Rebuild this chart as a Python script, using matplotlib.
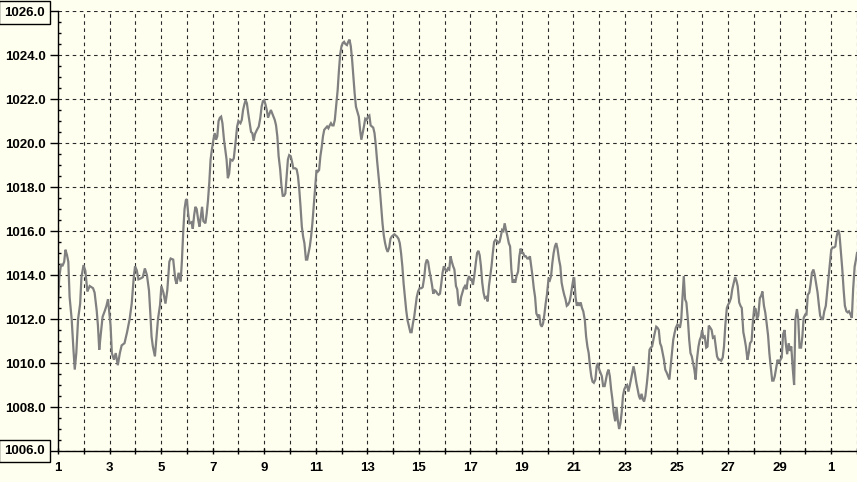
import matplotlib
matplotlib.use("Agg")
import matplotlib.pyplot as plt
from matplotlib.ticker import FixedLocator, MultipleLocator

# ---- data: time offset in days from day 1 00:00, pressure in hPa ----
day_offset = [
    0.00, 0.05, 0.12, 0.17, 0.24, 0.29, 0.35, 0.40, 0.45, 0.53, 0.60, 0.65, 0.71, 0.78, 0.86, 0.91, 0.99,
    1.06, 1.14, 1.23, 1.36, 1.42, 1.50, 1.55, 1.60, 1.65, 1.73, 1.81, 1.88, 1.94, 1.99,
    2.04, 2.09, 2.17, 2.24, 2.32, 2.40, 2.47, 2.58, 2.68, 2.78, 2.86, 2.94, 2.99,
    3.06, 3.12, 3.22, 3.29, 3.37, 3.45, 3.53, 3.58, 3.63, 3.68, 3.76, 3.81, 3.88, 3.96,
    4.01, 4.09, 4.17, 4.24, 4.32, 4.37, 4.47, 4.55, 4.60, 4.68, 4.76, 4.81, 4.86, 4.91, 4.96,
    5.00, 5.05, 5.10, 5.18, 5.23, 5.28, 5.33, 5.38, 5.44, 5.49, 5.54, 5.59, 5.64, 5.72, 5.77, 5.82, 5.87, 5.92, 5.97,
    6.03, 6.08, 6.13, 6.18, 6.23, 6.28, 6.33, 6.38, 6.44, 6.49, 6.54, 6.59, 6.64, 6.69, 6.77, 6.82, 6.90, 6.95,
    7.00, 7.08, 7.13, 7.18, 7.23, 7.28, 7.33, 7.38, 7.44, 7.49, 7.54, 7.59, 7.64, 7.72, 7.79, 7.85, 7.90, 7.95,
    8.00, 8.05, 8.10, 8.15, 8.21, 8.26, 8.31, 8.36, 8.41, 8.46, 8.51, 8.56, 8.62, 8.67, 8.72, 8.77, 8.82, 8.87, 8.92, 8.97,
    9.03, 9.08, 9.13, 9.21, 9.26, 9.31, 9.36, 9.41, 9.46, 9.51, 9.56, 9.62, 9.67, 9.72, 9.77, 9.82, 9.87, 9.92, 9.97,
    10.03, 10.08, 10.13, 10.18, 10.23, 10.28, 10.33, 10.38, 10.44, 10.49, 10.54, 10.59, 10.64, 10.69, 10.74, 10.79, 10.85, 10.90, 10.95,
    11.00, 11.05, 11.10, 11.15, 11.21, 11.26, 11.31, 11.36, 11.41, 11.46, 11.51, 11.56, 11.62, 11.67, 11.72, 11.77, 11.82, 11.87, 11.92, 11.97,
    12.03, 12.08, 12.13, 12.18, 12.23, 12.28, 12.33, 12.38, 12.44, 12.49, 12.54, 12.59, 12.64, 12.69, 12.74, 12.79, 12.85, 12.90, 12.95,
    13.00, 13.05, 13.10, 13.15, 13.21, 13.26, 13.31, 13.36, 13.41, 13.46, 13.51, 13.56, 13.62, 13.67, 13.72, 13.77, 13.82, 13.87, 13.92, 13.97,
    14.03, 14.10, 14.15, 14.21, 14.26, 14.31, 14.36, 14.41, 14.46, 14.51, 14.56, 14.62, 14.67, 14.72, 14.77, 14.82, 14.87, 14.92, 14.97,
    15.03, 15.08, 15.13, 15.18, 15.23, 15.28, 15.33, 15.38, 15.44, 15.49, 15.54, 15.59, 15.64, 15.69, 15.74, 15.79, 15.85, 15.90, 15.95,
    16.00, 16.05, 16.10, 16.15, 16.21, 16.26, 16.31, 16.36, 16.41, 16.46, 16.51, 16.56, 16.62, 16.67, 16.72, 16.77, 16.82, 16.87, 16.92, 16.97,
    17.03, 17.08, 17.13, 17.18, 17.23, 17.28, 17.33, 17.38, 17.44, 17.49, 17.54, 17.59, 17.64, 17.69, 17.74, 17.79, 17.85, 17.90, 17.95,
    18.00, 18.05, 18.10, 18.15, 18.21, 18.26, 18.31, 18.36, 18.41, 18.46, 18.51, 18.56, 18.62, 18.67, 18.72, 18.77, 18.82, 18.87, 18.92, 18.97,
    19.03, 19.08, 19.13, 19.18, 19.23, 19.28, 19.33, 19.38, 19.44, 19.49, 19.54, 19.59, 19.64, 19.69, 19.74, 19.79, 19.85, 19.90, 19.95,
    20.00, 20.03, 20.08, 20.13, 20.18, 20.23, 20.28, 20.33, 20.38, 20.44, 20.49, 20.54, 20.59, 20.64, 20.69, 20.74, 20.79, 20.85, 20.90, 20.95,
    21.00, 21.05, 21.10, 21.15, 21.21, 21.26, 21.31, 21.36, 21.41, 21.46, 21.51, 21.56, 21.62, 21.67, 21.72, 21.77, 21.82, 21.87, 21.92, 21.97,
    22.03, 22.08, 22.13, 22.18, 22.23, 22.28, 22.33, 22.38, 22.44, 22.49, 22.54, 22.59, 22.64, 22.69, 22.74, 22.79, 22.85, 22.90, 22.95,
    23.00, 23.05, 23.10, 23.15, 23.21, 23.26, 23.31, 23.36, 23.41, 23.46, 23.51, 23.56, 23.62, 23.67, 23.72, 23.77, 23.82, 23.87, 23.92, 23.97,
    24.03, 24.08, 24.13, 24.18, 24.23, 24.28, 24.33, 24.38, 24.44, 24.49, 24.54, 24.59, 24.64, 24.69, 24.74, 24.79, 24.85, 24.90, 24.95, 24.99,
    25.04, 25.09, 25.15, 25.20, 25.25, 25.31, 25.36, 25.41, 25.47, 25.52, 25.57, 25.63, 25.68, 25.73, 25.79, 25.84, 25.89, 25.95,
    26.00, 26.05, 26.11, 26.16, 26.21, 26.27, 26.32, 26.37, 26.43, 26.48, 26.53, 26.59, 26.64, 26.69, 26.75, 26.80, 26.85, 26.91, 26.96,
    27.01, 27.07, 27.12, 27.17, 27.23, 27.28, 27.33, 27.39, 27.44, 27.49, 27.55, 27.60, 27.65, 27.71, 27.76, 27.81, 27.87, 27.92, 27.97,
    28.03, 28.08, 28.13, 28.19, 28.24, 28.29, 28.35, 28.40, 28.45, 28.51, 28.56, 28.61, 28.67, 28.72, 28.77, 28.83, 28.88, 28.93, 28.99,
    29.04, 29.09, 29.15, 29.20, 29.25, 29.31, 29.36, 29.41, 29.47, 29.52, 29.57, 29.63, 29.68, 29.73, 29.79, 29.84, 29.89, 29.95,
    30.00, 30.05, 30.11, 30.16, 30.21, 30.27, 30.32, 30.37, 30.43, 30.48, 30.53, 30.59, 30.64, 30.69, 30.75, 30.80, 30.85, 30.91, 30.96, 31.00,
]

pressure_hpa = [
    1012.7, 1013.9, 1014.5, 1014.4, 1014.6, 1015.15, 1014.9, 1014.6, 1013.0, 1012.0, 1010.6, 1009.7, 1010.45, 1012.0, 1012.7, 1013.9, 1014.45,
    1014.2, 1013.25, 1013.5, 1013.4, 1013.2, 1012.4, 1011.7, 1010.6, 1011.2, 1012.1, 1012.35, 1012.6, 1012.9, 1012.3,
    1011.7, 1010.45, 1010.15, 1010.45, 1009.9, 1010.45, 1010.8, 1010.9, 1011.4, 1012.0, 1012.7, 1013.9, 1014.4,
    1014.2, 1013.8, 1013.85, 1013.9, 1014.3, 1014.0, 1013.3, 1012.3, 1011.2, 1010.75, 1010.3, 1011.0, 1012.0, 1012.65,
    1013.5, 1013.2, 1012.7, 1013.3, 1014.6, 1014.75, 1014.7, 1013.8, 1013.6, 1014.1, 1013.7, 1014.7, 1016.0, 1017.0, 1017.4,
    1017.45, 1016.8, 1016.35, 1016.4, 1016.1, 1016.7, 1017.1, 1017.0, 1016.5, 1016.2, 1016.65, 1017.1, 1016.45, 1016.35, 1016.8, 1017.4, 1018.2, 1019.25, 1019.7,
    1020.15, 1020.45, 1020.15, 1020.3, 1021.0, 1021.15, 1021.2, 1020.9, 1020.15, 1019.7, 1019.25, 1018.4, 1018.6, 1019.25, 1019.2, 1019.3, 1020.15, 1020.75,
    1021.0, 1020.9, 1021.05, 1021.5, 1021.75, 1021.95, 1021.8, 1021.35, 1020.9, 1020.5, 1020.45, 1020.1, 1020.4, 1020.6, 1020.75, 1021.15, 1021.65, 1021.9,
    1021.95, 1021.75, 1021.5, 1021.15, 1021.35, 1021.5, 1021.35, 1021.2, 1021.05, 1020.8, 1020.3, 1019.4, 1018.8, 1018.05, 1017.6, 1017.6, 1017.7, 1018.5, 1019.25, 1019.45,
    1019.4, 1019.15, 1018.85, 1018.85, 1018.8, 1018.5, 1017.9, 1017.1, 1016.2, 1015.75, 1015.45, 1014.7, 1014.7, 1015.0, 1015.3, 1015.75, 1016.35, 1017.1, 1017.9,
    1018.77, 1018.7, 1018.77, 1019.4, 1019.8, 1020.3, 1020.6, 1020.67, 1020.75, 1020.67, 1020.8, 1020.9, 1020.8, 1020.8, 1021.05, 1021.65, 1022.4, 1023.3, 1024.05,
    1024.4, 1024.55, 1024.6, 1024.5, 1024.45, 1024.6, 1024.7, 1024.4, 1023.8, 1023.0, 1022.25, 1021.65, 1021.4, 1021.2, 1020.6, 1020.15, 1020.45, 1020.75, 1021.1, 1021.05,
    1021.2, 1021.25, 1020.8, 1020.75, 1020.7, 1020.45, 1019.9, 1019.2, 1018.45, 1017.85, 1017.1, 1016.35, 1015.8, 1015.45, 1015.2, 1015.05, 1015.25, 1015.65, 1015.75,
    1015.8, 1015.85, 1015.8, 1015.75, 1015.65, 1015.45, 1015.0, 1014.4, 1013.6, 1013.0, 1012.4, 1011.95, 1011.65, 1011.4, 1011.4, 1011.8, 1012.1, 1012.55, 1013.0, 1013.25,
    1013.4, 1013.4, 1013.45, 1013.9, 1014.5, 1014.7, 1014.6, 1014.2, 1013.9, 1013.55, 1013.15, 1013.3, 1013.25, 1013.15, 1013.1, 1013.15, 1013.6, 1014.1, 1014.4,
    1014.25, 1014.15, 1014.3, 1014.25, 1014.85, 1014.6, 1014.4, 1014.25, 1013.5, 1013.35, 1012.7, 1012.6, 1013.0, 1013.2, 1013.4, 1013.5, 1013.35, 1013.8, 1013.95,
    1013.8, 1013.8, 1013.55, 1013.95, 1014.55, 1015.0, 1015.1, 1014.9, 1014.4, 1013.65, 1013.2, 1012.95, 1013.0, 1012.8, 1013.5, 1013.95, 1014.4, 1015.0, 1015.5, 1015.6,
    1015.55, 1015.45, 1015.5, 1015.75, 1016.05, 1016.0, 1016.35, 1016.05, 1015.75, 1015.45, 1015.3, 1014.25, 1013.65, 1013.8, 1013.65, 1013.95, 1014.15, 1014.85, 1015.2,
    1015.0, 1015.0, 1014.85, 1014.85, 1014.75, 1014.75, 1014.85, 1014.4, 1013.95, 1013.4, 1013.0, 1012.25, 1012.1, 1012.2, 1011.75, 1011.65, 1011.8, 1012.2, 1012.7, 1013.1,
    1013.8, 1013.75, 1013.95, 1014.55, 1015.0, 1015.3, 1015.45, 1015.2, 1014.7, 1014.4, 1013.65, 1013.35, 1013.1, 1012.9, 1012.6, 1012.65, 1012.8, 1013.1, 1013.5,
    1013.85, 1013.85, 1013.0, 1012.6, 1012.75, 1012.6, 1012.75, 1012.5, 1012.35, 1011.95, 1011.2, 1010.75, 1010.45, 1009.85, 1009.4, 1009.15, 1009.1, 1009.25, 1009.85, 1010.0,
    1009.7, 1009.55, 1009.4, 1008.95, 1008.95, 1009.25, 1009.55, 1009.7, 1009.4, 1008.8, 1008.35, 1007.75, 1007.35, 1008.0, 1007.4, 1007.0, 1007.25, 1007.75, 1008.5, 1008.8,
    1008.95, 1009.0, 1008.7, 1008.95, 1009.25, 1009.55, 1009.85, 1009.55, 1009.1, 1008.8, 1008.5, 1008.35, 1008.6, 1008.35, 1008.25, 1008.5, 1009.1, 1009.7, 1010.6,
    1010.7, 1010.75, 1011.05, 1011.35, 1011.65, 1011.6, 1011.5, 1010.9, 1010.75, 1010.45, 1010.15, 1009.7, 1009.55, 1009.4, 1009.25, 1009.85, 1010.45, 1011.05, 1011.35, 1011.6,
    1011.75, 1011.7, 1011.6, 1011.95, 1013.0, 1013.95, 1012.9, 1012.75, 1011.95, 1011.05, 1010.45, 1010.3, 1010.0, 1009.7, 1009.25, 1010.15, 1010.75, 1011.05, 1011.2, 1011.5,
    1011.15, 1011.2, 1010.7, 1010.75, 1011.7, 1011.6, 1011.5, 1011.15, 1011.2, 1010.75, 1010.3, 1010.15, 1010.15, 1010.1, 1010.25, 1010.75, 1011.7, 1012.5,
    1012.65, 1012.75, 1012.95, 1013.35, 1013.6, 1013.9, 1013.75, 1013.5, 1012.75, 1012.6, 1012.5, 1011.4, 1011.1, 1010.75, 1010.15, 1010.45, 1010.9, 1011.0, 1011.85,
    1012.5, 1012.45, 1012.0, 1012.15, 1012.95, 1013.05, 1013.25, 1012.6, 1012.3, 1011.85, 1011.25, 1010.45, 1009.85, 1009.2, 1009.2, 1009.4, 1009.8, 1010.15, 1010.0,
    1010.15, 1010.25, 1011.3, 1011.5, 1010.85, 1010.4, 1010.9, 1010.55, 1010.75, 1009.7, 1009.0, 1012.0, 1012.45, 1012.0, 1010.7, 1010.7, 1011.2, 1012.05, 1012.2,
    1012.2, 1013.1, 1013.2, 1013.6, 1014.1, 1014.25, 1014.0, 1013.65, 1013.2, 1012.65, 1012.15, 1012.0, 1012.0, 1012.35, 1012.6, 1013.2, 1013.8, 1014.55,
    1015.15, 1015.25, 1015.25, 1015.3, 1015.75, 1016.05, 1015.85, 1015.15, 1014.25, 1013.35, 1012.6, 1012.35, 1012.3, 1012.35, 1012.2, 1012.05, 1013.35, 1014.4, 1014.7, 1015.0,
]

# x tick labels: day numbers at each day boundary (every other one labelled)
x_tick_days = ["1", "", "3", "", "5", "", "7", "", "9", "", "11", "", "13", "", "15", "",
               "17", "", "19", "", "21", "", "23", "", "25", "", "27", "", "29", "", "1", ""]
y_tick_values = [1006.0, 1008.0, 1010.0, 1012.0, 1014.0, 1016.0, 1018.0, 1020.0, 1022.0, 1024.0, 1026.0]

# ---- styling ----
BG = "#FFFFF0"
LINE = "#808080"
GRID = "#2a2a2a"
FONT = dict(family=["Liberation Sans", "DejaVu Sans"], weight="bold", size=9.5)

W, H = 857, 482
fig = plt.figure(figsize=(W / 100, H / 100), dpi=100, facecolor=BG)
ax = fig.add_axes([58 / W, 1 - 451 / H, (857 - 58) / W, (451 - 11) / H])
ax.set_facecolor(BG)

ax.plot(day_offset, pressure_hpa, color=LINE, lw=1.6, zorder=3, solid_joinstyle="miter")

ax.set_xlim(0, 31)
ax.set_ylim(1006, 1026)

for s in ("top", "right"):
    ax.spines[s].set_visible(False)
for s in ("left", "bottom"):
    ax.spines[s].set_color("black")
    ax.spines[s].set_linewidth(1.0)
    ax.spines[s].set_zorder(4)

ax.xaxis.set_major_locator(FixedLocator(list(range(len(x_tick_days)))))
ax.set_xticklabels(x_tick_days, fontdict=FONT)
ax.yaxis.set_major_locator(FixedLocator(y_tick_values))
ylabels = ["%.1f" % v for v in y_tick_values]
ylabels[0] = ""
ylabels[-1] = ""
ax.set_yticklabels(ylabels, fontdict=FONT)
ax.yaxis.set_minor_locator(MultipleLocator(0.5))

ax.tick_params(axis="x", which="major", direction="inout", length=5, width=1, pad=5.5, colors="black")
ax.tick_params(axis="y", which="major", direction="out", length=5.5, width=1, pad=3.5, colors="black")
ax.tick_params(axis="y", which="minor", direction="in", length=2.5, width=1, colors="black")

ax.grid(True, which="major", axis="both", color=GRID, lw=0.8, linestyle=(0, (3.2, 3.2)), zorder=1)

# boxed end labels
for v in (y_tick_values[0], y_tick_values[-1]):
    ax.annotate("%.1f" % v, xy=(0, v), xycoords=ax.get_yaxis_transform(),
                xytext=(-13, -1.5 if v == y_tick_values[-1] else 0), textcoords="offset pixels",
                ha="right", va="center", annotation_clip=False, **FONT,
                bbox=dict(boxstyle="square,pad=0.4", fc=BG, ec="black", lw=1.0))

fig.savefig("out.png", dpi=100, facecolor=BG)
